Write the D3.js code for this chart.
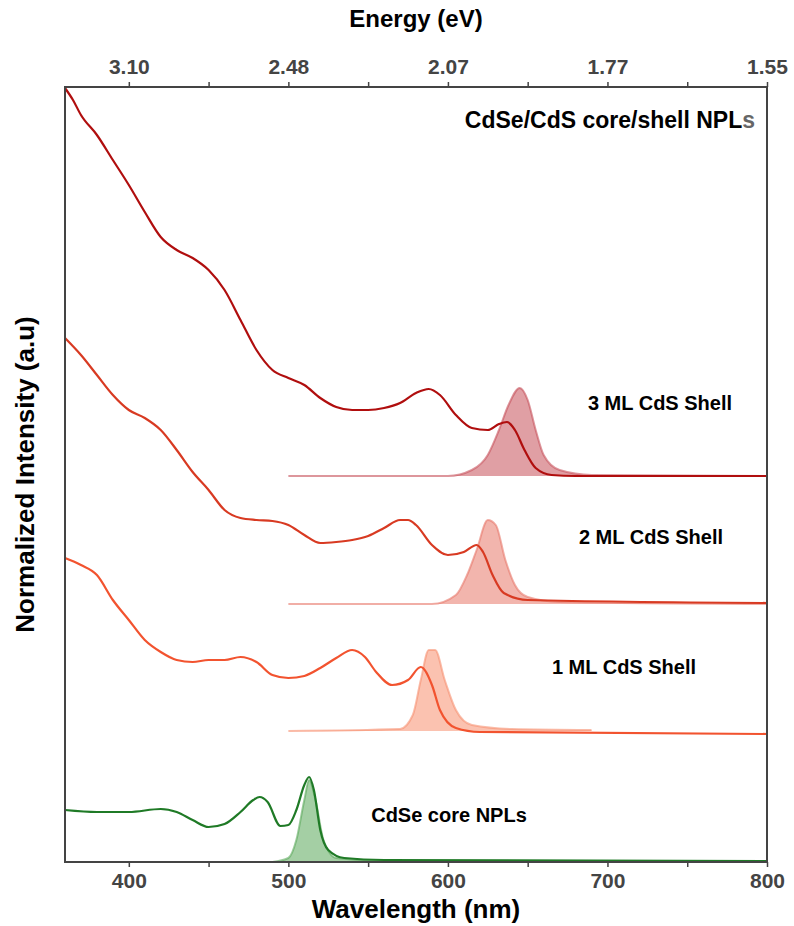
<!DOCTYPE html>
<html><head><meta charset="utf-8">
<script src="https://cdn.jsdelivr.net/npm/d3@7"></script>
<style>body{margin:0;background:#fff}text{font-family:"Liberation Sans",Arial,sans-serif;font-weight:bold}</style>
</head><body><svg id="c" width="794" height="926"></svg>
<script>
// wavelength (nm) and height (arbitrary, stacked offsets)
var abs3 = [[360,774],[365,762],[370,747],[380,727],[390,702],[400,677],[410,650],[420,625],[430,612],[440,604],[450,592],[460,572],[470,542],[480,512],[490,492],[500,484],[510,477],[520,464],[530,455],[540,452],[550,452],[560,454],[570,459],[580,469],[588,473],[595,467],[605,447],[615,434],[625,432],[632,438],[637,440],[642,432],[648,412],[655,394],[665,387],[680,386],[800,386]];
var pl3 = [[500,386],[600,386],[615,392],[625,407],[632,432],[638,457],[645,474],[650,462],[655,432],[660,407],[670,392],[690,387],[800,386]];
var abs2 = [[360,524],[370,507],[380,487],[390,467],[400,452],[410,444],[420,432],[430,412],[440,390],[450,372],[460,352],[470,344],[480,342],[490,341],[500,337],[510,327],[520,319],[530,320],[540,322],[550,326],[560,334],[570,342],[575,342],[580,337],[590,317],[600,307],[610,310],[618,317],[622,310],[628,287],[635,269],[650,262],[800,259]];
var pl2 = [[500,258],[590,258],[605,267],[612,287],[618,312],[625,342],[630,337],[636,302],[642,277],[650,265],[670,260],[800,258]];
var abs1 = [[360,304],[370,297],[380,287],[390,262],[400,242],[410,222],[420,210],[430,202],[440,200],[450,202],[460,202],[470,205],[480,200],[490,187],[500,184],[510,186],[520,194],[530,204],[540,212],[548,205],[555,190],[565,177],[575,182],[583,195],[590,177],[595,152],[605,134],[620,130],[800,128]];
var pl1 = [[500,131],[570,133],[578,147],[583,182],[588,212],[592,212],[598,182],[605,152],[615,137],[640,133],[690,132]];
var absCore = [[360,52],[380,50],[400,50],[420,53],[430,50],[440,42],[450,35],[460,38],[470,50],[478,62],[482,65],[487,60],[495,36],[500,37],[505,52],[510,77],[513,85],[516,72],[520,32],[525,12],[535,4],[560,2],[800,1]];
var plCore = [[490,0],[500,4],[505,22],[510,62],[513,82],[517,62],[522,22],[530,4],[560,1],[800,1]];
var xTicks = [400,500,600,700,800];
var energyLabels = ["3.10","2.48","2.07","1.77","1.55"];
var seriesLabels = [["3 ML CdS Shell",660,459],["2 ML CdS Shell",651,325],["1 ML CdS Shell",624,195],["CdSe core NPLs",449,47]];

var L=65,R=767,T=87,B=862;
var svg=d3.select("#c");
var x=d3.scaleLinear().domain([360,800]).range([L,R]);
var y=d3.scaleLinear().domain([0,812]).range([B,50]);
var line=d3.line().x(d=>x(d[0])).y(d=>y(d[1])).curve(d3.curveMonotoneX);

var g=svg.append("g");
function pl(data,base,fill){
  var a=d3.area().x(d=>x(d[0])).y0(y(base)).y1(d=>y(d[1])).curve(d3.curveMonotoneX);
  g.append("path").attr("d",a(data)).attr("fill",fill).attr("fill-opacity",0.55);
  g.append("path").attr("d",line(data)).attr("fill","none").attr("stroke",fill).attr("stroke-width",2).attr("stroke-opacity",0.6);
}
pl(pl3,386,"#c7505a");
pl(pl2,258,"#e8786a");
pl(pl1,131,"#f7906f");
pl(plCore,0,"#5aa85a");
[[abs3,"#b00e0e"],[abs2,"#d83a22"],[abs1,"#f2532f"],[absCore,"#1f7a26"]].forEach(function(s){
  g.append("path").attr("d",line(s[0])).attr("fill","none").attr("stroke",s[1]).attr("stroke-width",2.2);
});

var xb=d3.axisBottom(x).tickValues(d3.range(400,801,50)).tickSize(5).tickPadding(6).tickFormat(d=>xTicks.indexOf(d)>=0?d:"");
var xt=d3.axisTop(x).tickValues(d3.range(400,801,50)).tickSize(5).tickPadding(8).tickFormat(d=>{var i=xTicks.indexOf(d);return i>=0?energyLabels[i]:"";});
function style(ax){ax.attr("font-size",21).attr("font-family",null);ax.select(".domain").remove();
  ax.selectAll("line").attr("stroke","#444").attr("stroke-width",1.5);
  ax.selectAll("text").attr("fill","#444");}
var ab=svg.append("g").attr("transform","translate(0,"+B+")").call(xb);style(ab);
var at=svg.append("g").attr("transform","translate(0,"+T+")").call(xt);style(at);
svg.append("rect").attr("x",L).attr("y",T).attr("width",R-L).attr("height",B-T).attr("fill","none").attr("stroke","#444").attr("stroke-width",2);

svg.append("text").attr("x",(L+R)/2).attr("y",918).attr("text-anchor","middle").style("font-size","26px").text("Wavelength (nm)");
svg.append("text").attr("x",(L+R)/2).attr("y",27).attr("text-anchor","middle").style("font-size","24px").text("Energy (eV)");
svg.append("text").attr("transform","translate(34,"+((T+B)/2)+") rotate(-90)").attr("text-anchor","middle").style("font-size","26px").text("Normalized Intensity (a.u)");
var t=svg.append("text").attr("x",755).attr("y",128).attr("text-anchor","end").style("font-size","23px");
t.append("tspan").text("CdSe/CdS core/shell NPL");
t.append("tspan").attr("fill","#666").text("s");
seriesLabels.forEach(function(s){
  svg.append("text").attr("x",s[1]).attr("y",y(s[2])).attr("dy","0.35em").attr("text-anchor","middle").style("font-size","20px").text(s[0]);
});
</script></body></html>
